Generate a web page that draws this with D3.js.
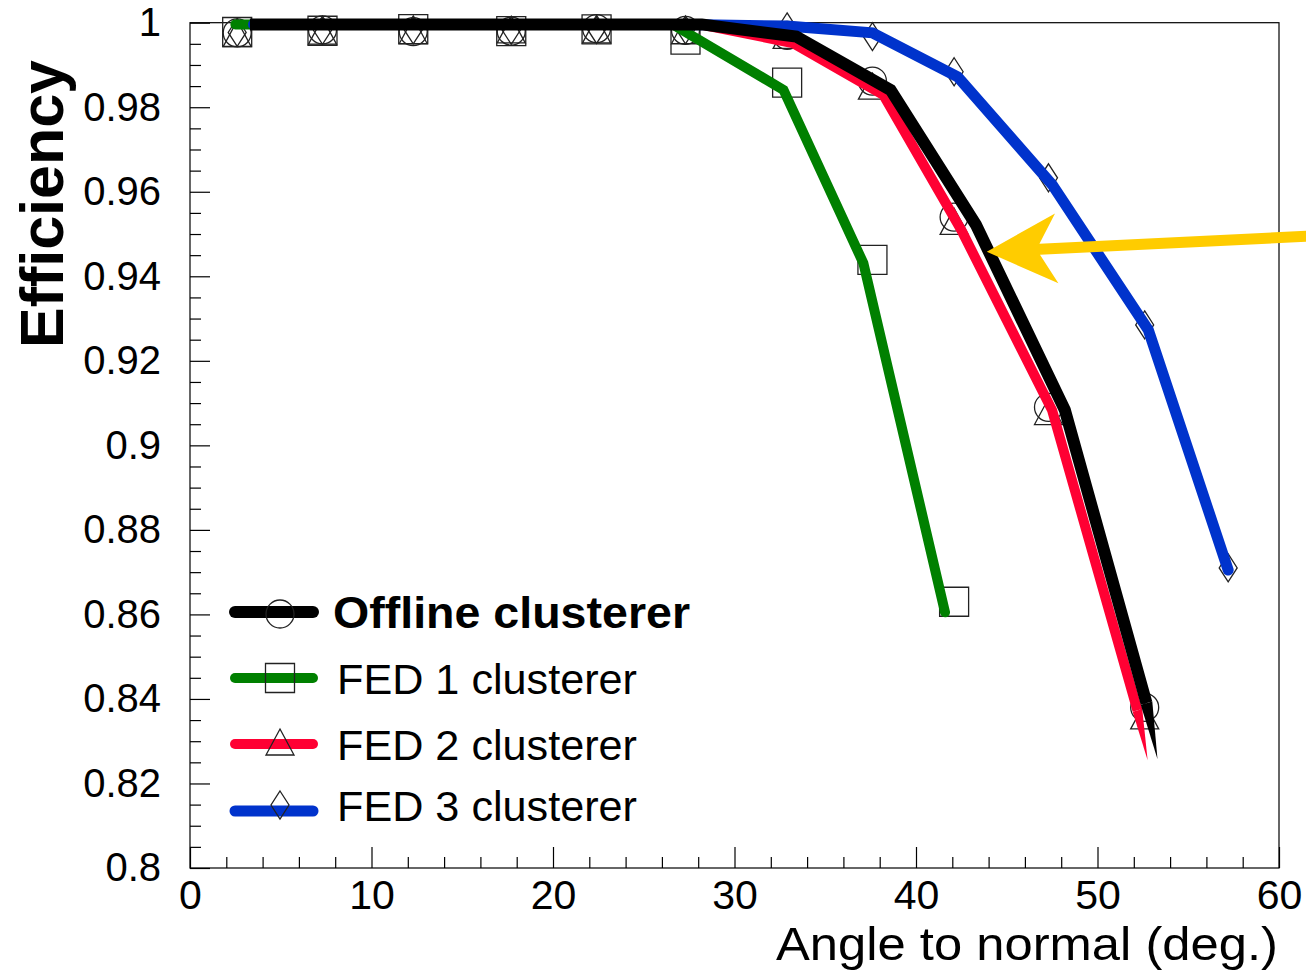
<!DOCTYPE html>
<html>
<head>
<meta charset="utf-8">
<script src="https://cdn.jsdelivr.net/npm/d3@7"></script>
<style>
  html, body { margin: 0; padding: 0; background: #fff; }
  svg { display: block; }
  text { font-family: "Liberation Sans", Arial, Helvetica, sans-serif; fill: #000; }
</style>
</head>
<body>
<svg id="chart" width="1306" height="970"></svg>
<script>
// ---- measured points (angle in degrees, efficiency) ----
const angles = [2.6, 7.3, 12.3, 17.7, 22.4, 27.3, 32.9, 37.6, 42.1, 47.3, 52.6, 57.2];
const offlinePoints = [0.9976, 0.9983, 0.9979, 0.9980, 0.9986, 0.9982, 0.9970, 0.9862, 0.9540, 0.9090, 0.8380];
const fed1Points    = [0.9978, 0.9981, 0.9985, 0.9980, 0.9984, 0.9960, 0.9858, 0.9439, 0.8630];
const fed2Points    = [0.9974, 0.9980, 0.9981, 0.9983, 0.9983, 0.9981, 0.9970, 0.9850, 0.9530, 0.9080, 0.8360];
const fed3Points    = [0.9977, 0.9982, 0.9983, 0.9982, 0.9984, 0.9983, 0.9990, 0.9967, 0.9884, 0.9633, 0.9285, 0.8710];

// ---- efficiency curves ----
const offlineCurveAngles = [3.3, 8.2, 13.2, 18.2, 23.2, 28.2, 33.4, 38.6, 43.3, 48.2, 52.7];
const offlineCurveEff    = [0.9996, 0.9996, 0.9996, 0.9996, 0.9996, 0.9996, 0.9967, 0.9841, 0.9522, 0.9084, 0.8390];
const fed1CurveAngles    = [2.5, 7.3, 12.1, 17.0, 21.8, 26.6, 32.7, 37.1, 41.6];
const fed1CurveEff       = [0.9996, 0.9996, 0.9996, 0.9996, 0.9996, 0.9996, 0.9841, 0.9431, 0.8605];
const fed2CurveAngles    = [3.5, 7.9, 13.0, 18.0, 23.0, 28.1, 33.2, 38.2, 42.5, 47.5, 52.2];
const fed2CurveEff       = [0.9996, 0.9996, 0.9996, 0.9996, 0.9996, 0.9996, 0.9952, 0.9829, 0.9509, 0.9083, 0.8373];
const fed3CurveAngles    = [3.5, 7.3, 12.3, 17.7, 22.4, 27.3, 32.9, 37.6, 42.3, 47.5, 52.8, 57.2];
const fed3CurveEff       = [0.9996, 0.9996, 0.9996, 0.9996, 0.9996, 0.9996, 0.9992, 0.9976, 0.9872, 0.9617, 0.9273, 0.8705];

// ---- axes ----
const xTicks = [0, 10, 20, 30, 40, 50, 60];
const xTickLabels = ["0", "10", "20", "30", "40", "50", "60"];
const yTicks = [0.8, 0.82, 0.84, 0.86, 0.88, 0.9, 0.92, 0.94, 0.96, 0.98, 1];
const yTickLabels = ["0.8", "0.82", "0.84", "0.86", "0.88", "0.9", "0.92", "0.94", "0.96", "0.98", "1"];
const xTitle = "Angle to normal (deg.)";
const yTitle = "Efficiency";

// ---- legend / annotation ----
const seriesNames = ["Offline clusterer", "FED 1 clusterer", "FED 2 clusterer", "FED 3 clusterer"];
const arrowTip = [43.9, 0.9458];
const arrowTail = [61.6, 0.9495];

const series = [
  { name: seriesNames[0], pts: offlinePoints, cx: offlineCurveAngles, cy: offlineCurveEff, color: "#000000", width: 12, marker: "circle",   tail: 56 },
  { name: seriesNames[1], pts: fed1Points,    cx: fed1CurveAngles,    cy: fed1CurveEff,    color: "#008000", width: 10, marker: "square",   tail: 0 },
  { name: seriesNames[2], pts: fed2Points,    cx: fed2CurveAngles,    cy: fed2CurveEff,    color: "#ff0033", width: 10, marker: "triangle", tail: 50 },
  { name: seriesNames[3], pts: fed3Points,    cx: fed3CurveAngles,    cy: fed3CurveEff,    color: "#0033cc", width: 11, marker: "diamond",  tail: 0 }
];

const svg = d3.select("#chart");
const L = 190, R = 1279, T = 22.7, B = 868;
const x = d3.scaleLinear().domain([0, 60]).range([L, R]);
const y = d3.scaleLinear().domain([0.8, 1]).range([B, T]);

// frame
svg.append("rect").attr("x", L).attr("y", T).attr("width", R - L).attr("height", B - T)
  .attr("fill", "none").attr("stroke", "#000").attr("stroke-width", 1.2);

// x axis: major ticks with labels, minor ticks every 2 deg
const xMinor = d3.range(0, 60.001, 2).filter(v => v % 10 !== 0);
svg.append("g").attr("transform", `translate(0,${B})`)
  .call(d3.axisBottom(x).tickValues(xMinor).tickSize(-11).tickFormat(""))
  .call(g => g.select(".domain").remove());
const gx = svg.append("g").attr("transform", `translate(0,${B})`)
  .call(d3.axisBottom(x).tickValues(xTicks).tickSize(-21).tickPadding(12)
        .tickFormat((d, i) => xTickLabels[i]))
  .call(g => g.select(".domain").remove());
gx.selectAll("text").attr("font-size", 41).attr("font-family", "Liberation Sans, Arial, sans-serif").attr("fill", "#000");

// y axis: major ticks every 0.02, minor every 0.005
const yMinor = d3.range(0, 41).map(i => 0.8 + i * 0.005).filter((v, i) => i % 4 !== 0);
svg.append("g").attr("transform", `translate(${L},0)`)
  .call(d3.axisLeft(y).tickValues(yMinor).tickSize(-11).tickFormat(""))
  .call(g => g.select(".domain").remove());
const gy = svg.append("g").attr("transform", `translate(${L},0)`)
  .call(d3.axisLeft(y).tickValues(yTicks).tickSize(-20).tickPadding(29)
        .tickFormat((d, i) => yTickLabels[i]))
  .call(g => g.select(".domain").remove());
gy.selectAll("text").attr("font-size", 40).attr("font-family", "Liberation Sans, Arial, sans-serif").attr("fill", "#000");
svg.selectAll(".tick line").attr("stroke", "#000").attr("stroke-width", 1.2);

// axis titles
svg.append("text").attr("x", 776).attr("y", 960)
  .attr("font-size", 46).attr("textLength", 502).attr("lengthAdjust", "spacingAndGlyphs")
  .text(xTitle);
svg.append("text").attr("transform", "translate(63,348) rotate(-90)")
  .attr("font-size", 62).attr("font-weight", "bold")
  .attr("textLength", 288).attr("lengthAdjust", "spacingAndGlyphs")
  .text(yTitle);

// marker shapes
function markerPath(type) {
  switch (type) {
    case "circle":   return d3.arc()({ innerRadius: 0, outerRadius: 14, startAngle: 0, endAngle: 2 * Math.PI });
    case "square":   return "M-14.5,-14.5H14.5V14.5H-14.5Z";
    case "triangle": return "M0,-13L14,13H-14Z";
    case "diamond":  return "M0,-14L9,0L0,14L-9,0Z";
  }
}

// points (drawn beneath the curves)
series.forEach(s => {
  svg.append("g").selectAll("path")
    .data(s.pts.map((v, i) => [angles[i], v]))
    .join("path")
    .attr("transform", d => `translate(${x(d[0])},${y(d[1])})`)
    .attr("d", markerPath(s.marker))
    .attr("fill", "none").attr("stroke", "#222").attr("stroke-width", 1.3);
});

// curves
const line = d3.line().x(d => x(d[0])).y(d => y(d[1]));
[1, 3, 2, 0].forEach(k => {
  const s = series[k];
  const data = s.cx.map((a, i) => [a, s.cy[i]]);
  const g = svg.append("g");
  g.append("path")
    .datum(data)
    .attr("d", line)
    .attr("fill", "none").attr("stroke", s.color).attr("stroke-width", s.width)
    .attr("stroke-linecap", s.tail ? "butt" : "round").attr("stroke-linejoin", "miter");
  if (s.tail) {
    // thick polyline ends in a tapering point beyond its last vertex
    const n = data.length;
    const p1 = [x(data[n - 2][0]), y(data[n - 2][1])], p2 = [x(data[n - 1][0]), y(data[n - 1][1])];
    let ux = p2[0] - p1[0], uy = p2[1] - p1[1];
    const l = Math.hypot(ux, uy); ux /= l; uy /= l;
    const nx = -uy, ny = ux, h = s.width / 2;
    const tip = [p2[0] + ux * s.tail * 0.6 + 2, p2[1] + s.tail];
    g.append("path")
      .attr("d", `M${p2[0] + nx * h},${p2[1] + ny * h}L${tip[0]},${tip[1]}L${p2[0] - nx * h},${p2[1] - ny * h}Z`)
      .attr("fill", s.color);
  }
});

// legend
const legRows = [612, 678, 744, 811];
const legMarkerY = [614, 678, 742, 805];
series.forEach((s, i) => {
  const g = svg.append("g");
  g.append("line").attr("x1", 235).attr("x2", 313).attr("y1", legRows[i]).attr("y2", legRows[i])
    .attr("stroke", s.color).attr("stroke-width", s.width).attr("stroke-linecap", "round");
  g.append("path").attr("transform", `translate(280,${legMarkerY[i]})`)
    .attr("d", markerPath(s.marker))
    .attr("fill", "none").attr("stroke", "#222").attr("stroke-width", 1.3);
  const t = g.append("text").attr("lengthAdjust", "spacingAndGlyphs").text(s.name);
  if (i === 0) {
    t.attr("x", 333).attr("y", 628).attr("font-size", 44).attr("font-weight", "bold").attr("textLength", 357);
  } else {
    t.attr("x", 337).attr("y", legRows[i] + 16 - (i === 3 ? 6 : 0)).attr("font-size", 42).attr("textLength", 300);
  }
});

// annotation arrow
(function () {
  const tip = [x(arrowTip[0]), y(arrowTip[1])];
  const tail = [x(arrowTail[0]), y(arrowTail[1])];
  const dx = tail[0] - tip[0], dy = tail[1] - tip[1];
  const len = Math.hypot(dx, dy);
  const u = [dx / len, dy / len], n = [-u[1], u[0]];
  const at = (a, b) => [tip[0] + u[0] * a + n[0] * b, tip[1] + u[1] * a + n[1] * b];
  const hw = 5.5;
  const pts = [
    tip, at(70, 35), at(53, hw),
    [tail[0] + n[0] * hw, tail[1] + n[1] * hw],
    [tail[0] - n[0] * hw, tail[1] - n[1] * hw],
    at(53, -hw), at(70, -35)
  ];
  svg.append("path").attr("d", "M" + pts.map(p => p.join(",")).join("L") + "Z")
    .attr("fill", "#ffcc00");
})();
</script>
</body>
</html>
